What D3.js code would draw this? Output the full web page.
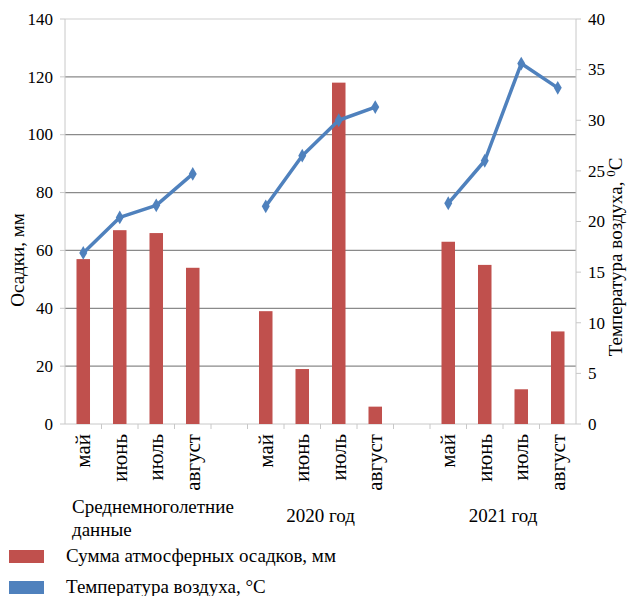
<!DOCTYPE html>
<html>
<head>
<meta charset="utf-8">
<script src="https://cdn.jsdelivr.net/npm/d3@7"></script>
<style>
  body { margin: 0; background: #fff; }
  text { font-family: "Liberation Serif" !important; }
</style>
</head>
<body>
<svg id="chart" width="628" height="596" font-family="Liberation Serif"></svg>
<script>
// chart data
var months = ['май', 'июнь', 'июль', 'август'];
var groups = ['Среднемноголетние данные', '2020 год', '2021 год'];
var precipitation = [
  [57, 67, 66, 54],
  [39, 19, 118, 6],
  [63, 55, 12, 32]
];
var temperature = [
  [16.9, 20.4, 21.6, 24.7],
  [21.5, 26.5, 30.0, 31.3],
  [21.8, 26.0, 35.6, 33.2]
];
var precipTicks = [0, 20, 40, 60, 80, 100, 120, 140];
var tempTicks = [0, 5, 10, 15, 20, 25, 30, 35, 40];
var legendItems = ['Сумма атмосферных осадков, мм', 'Температура воздуха, °С'];

var FONT = 'Liberation Serif';
var red = '#C0504D', blue = '#4F81BD';
var margin = {left: 65, right: 52, top: 19, bottom: 172};
var width = 628, height = 596;

var svg = d3.select('#chart');

// one slot per month, plus an empty slot between the groups
var slots = [];
groups.forEach(function(g, gi) {
  if (gi > 0) slots.push('gap' + gi);
  months.forEach(function(m, mi) { slots.push(gi + '_' + mi); });
});

var x = d3.scaleBand()
  .domain(slots)
  .range([margin.left, width - margin.right]);

var yP = d3.scaleLinear().domain([0, 140]).range([height - margin.bottom, margin.top]);
var yT = d3.scaleLinear().domain([0, 40]).range([height - margin.bottom, margin.top]);

var x0 = margin.left, x1 = width - margin.right;
var yBottom = yP(0);

// gridlines
svg.append('g')
  .selectAll('line')
  .data(precipTicks.filter(function(d) { return d > 0; }))
  .join('line')
  .attr('x1', x0).attr('x2', x1)
  .attr('y1', function(d) { return yP(d); })
  .attr('y2', function(d) { return yP(d); })
  .attr('stroke', function(d) { return d === 140 ? '#D0D0D0' : '#8A8A8A'; })
  .attr('stroke-width', 1.2);

// axes drawn by hand so the text keeps our font
function drawAxis(scale, ticks, xPos, side) {
  var g = svg.append('g');
  g.append('line')
    .attr('x1', xPos).attr('x2', xPos)
    .attr('y1', scale(ticks[ticks.length - 1])).attr('y2', yBottom)
    .attr('stroke', '#C8C8C8');
  g.selectAll('line.tick')
    .data(ticks)
    .join('line')
    .attr('class', 'tick')
    .attr('x1', xPos).attr('x2', xPos + side * 5)
    .attr('y1', function(d) { return scale(d); })
    .attr('y2', function(d) { return scale(d); })
    .attr('stroke', '#C8C8C8');
  g.selectAll('text')
    .data(ticks)
    .join('text')
    .attr('font-family', FONT)
    .attr('font-size', 17)
    .attr('x', xPos + side * 12)
    .attr('y', function(d) { return scale(d); })
    .attr('dy', '0.34em')
    .attr('text-anchor', side < 0 ? 'end' : 'start')
    .text(function(d) { return d; });
}
drawAxis(yP, precipTicks, x0, -1);
drawAxis(yT, tempTicks, x1, 1);

// bottom axis with tick marks on slot boundaries
svg.append('line')
  .attr('x1', x0).attr('x2', x1)
  .attr('y1', yBottom).attr('y2', yBottom)
  .attr('stroke', '#C8C8C8');
svg.append('g')
  .selectAll('line')
  .data(slots.slice(1))
  .join('line')
  .attr('x1', function(d) { return x(d); })
  .attr('x2', function(d) { return x(d); })
  .attr('y1', yBottom).attr('y2', yBottom + 5)
  .attr('stroke', '#C8C8C8');

// bars
var barW = x.bandwidth() * 0.37;
groups.forEach(function(g, gi) {
  svg.append('g')
    .selectAll('rect')
    .data(precipitation[gi])
    .join('rect')
    .attr('x', function(d, mi) { return x(gi + '_' + mi) + (x.bandwidth() - barW) / 2; })
    .attr('y', function(d) { return yP(d); })
    .attr('width', barW)
    .attr('height', function(d) { return yBottom - yP(d); })
    .attr('fill', red);
});

// temperature lines, one per group
var line = d3.line()
  .x(function(d) { return d.x; })
  .y(function(d) { return yT(d.v); });

groups.forEach(function(g, gi) {
  var pts = temperature[gi].map(function(v, mi) {
    return {x: x(gi + '_' + mi) + x.bandwidth() / 2, v: v};
  });
  svg.append('path')
    .datum(pts)
    .attr('d', line)
    .attr('fill', 'none')
    .attr('stroke', blue)
    .attr('stroke-width', 3.5)
    .attr('stroke-linejoin', 'round');
  svg.append('g')
    .selectAll('path')
    .data(pts)
    .join('path')
    .attr('d', d3.symbol(d3.symbolDiamond, 55))
    .attr('transform', function(d) { return 'translate(' + d.x + ',' + yT(d.v) + ')'; })
    .attr('fill', blue);
});

// month labels, rotated
groups.forEach(function(g, gi) {
  svg.append('g')
    .selectAll('text')
    .data(months)
    .join('text')
    .attr('font-family', FONT)
    .attr('font-size', 21)
    .attr('transform', function(d, mi) {
      return 'translate(' + (x(gi + '_' + mi) + x.bandwidth() / 2 + 7) + ',' + (yBottom + 10) + ') rotate(-90)';
    })
    .attr('text-anchor', 'end')
    .text(function(d) { return d; });
});

// group labels
function label(txt, px, py, anchor) {
  return svg.append('text')
    .attr('font-family', FONT)
    .attr('font-size', 19)
    .attr('x', px).attr('y', py)
    .attr('text-anchor', anchor)
    .text(txt);
}
label('Среднемноголетние', x('0_0') + 7, 513, 'start');
label('данные', x('0_0') + 7, 536, 'start');
[1, 2].forEach(function(gi) {
  var cx = (x(gi + '_0') + x(gi + '_3') + x.bandwidth()) / 2;
  label(groups[gi], cx, 522, 'middle');
});

// axis titles
svg.append('text')
  .attr('font-family', FONT)
  .attr('font-size', 19)
  .attr('transform', 'translate(24,260) rotate(-90)')
  .attr('text-anchor', 'middle')
  .text('Осадки, мм');

var rt = svg.append('text')
  .attr('font-family', FONT)
  .attr('font-size', 19)
  .attr('transform', 'translate(622,257) rotate(-90)')
  .attr('text-anchor', 'middle');
rt.append('tspan').text('Температура воздуха, ');
rt.append('tspan').attr('dy', -7).attr('font-size', 13).text('0');
rt.append('tspan').attr('dy', 7).text('С');

// legend
svg.append('g')
  .selectAll('rect')
  .data(legendItems)
  .join('rect')
  .attr('x', 9)
  .attr('y', function(d, i) { return 550 + i * 31; })
  .attr('width', 35).attr('height', 13)
  .attr('fill', function(d, i) { return i === 0 ? red : blue; });
svg.append('g')
  .selectAll('text')
  .data(legendItems)
  .join('text')
  .attr('font-family', FONT)
  .attr('font-size', 19)
  .attr('x', 66)
  .attr('y', function(d, i) { return 562 + i * 31; })
  .text(function(d) { return d; });
</script>
</body>
</html>
